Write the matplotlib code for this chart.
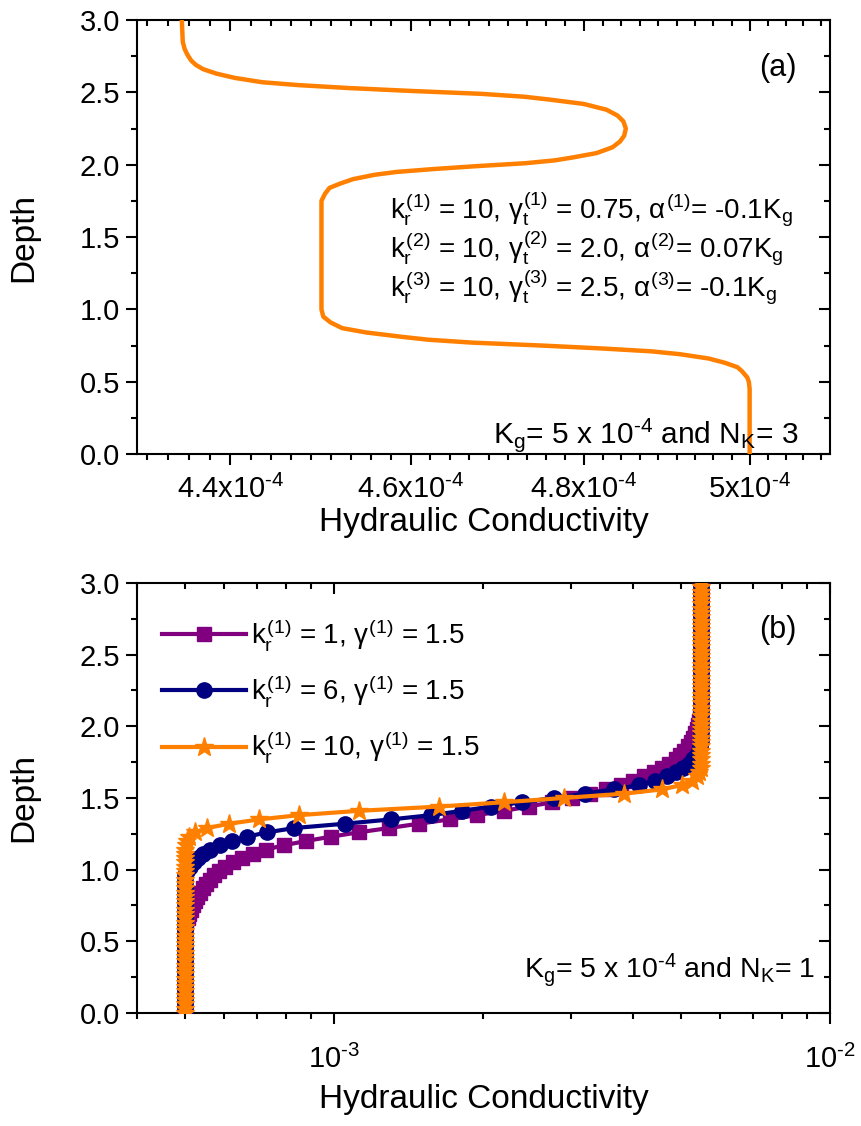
"""
plot.py — 수리전도도 깊이 프로파일 (a) N_K=3 단일 곡선, (b) N_K=1 k_r 비교.
"""
import numpy as np
import matplotlib
matplotlib.use('Agg')
import matplotlib.pyplot as plt
from matplotlib.lines import Line2D
from matplotlib.ticker import NullFormatter

plt.rcParams['font.family'] = ['Liberation Sans', 'DejaVu Sans']
plt.rcParams['mathtext.fontset'] = 'custom'
plt.rcParams['mathtext.rm'] = 'Liberation Sans'
plt.rcParams['mathtext.it'] = 'Liberation Sans'
plt.rcParams['mathtext.bf'] = 'Liberation Sans:bold'

# ─── 데이터 ────────────────────────────────────────────
# (a) 깊이 / K (단위 1e-4)
depth_a = [0.00, 0.20, 0.40, 0.45, 0.50, 0.53, 0.55, 0.57, 0.60, 0.63,
           0.66, 0.69, 0.71, 0.73, 0.75, 0.77, 0.79, 0.81, 0.84, 0.87,
           0.91, 0.95, 1.00, 1.20, 1.40, 1.60, 1.75, 1.80, 1.84, 1.87,
           1.90, 1.93, 1.95, 1.97, 1.99, 2.01, 2.03, 2.05, 2.08, 2.12,
           2.16, 2.20, 2.25, 2.30, 2.34, 2.38, 2.42, 2.45, 2.47, 2.49,
           2.51, 2.53, 2.55, 2.57, 2.60, 2.63, 2.66, 2.69, 2.72, 2.76,
           2.80, 2.85, 3.00]
K_a = [5.000, 5.000, 5.000, 5.000, 4.999, 4.997, 4.994, 4.991, 4.985, 4.970,
       4.950, 4.915, 4.880, 4.820, 4.750, 4.670, 4.620, 4.590, 4.550, 4.523,
       4.510, 4.502, 4.500, 4.500, 4.500, 4.500, 4.500, 4.504, 4.509, 4.521,
       4.535, 4.559, 4.584, 4.626, 4.675, 4.731, 4.766, 4.787, 4.815, 4.834,
       4.843, 4.848, 4.850, 4.847, 4.840, 4.827, 4.800, 4.760, 4.730, 4.680,
       4.600, 4.530, 4.475, 4.435, 4.405, 4.385, 4.371, 4.363, 4.358, 4.354,
       4.351, 4.349, 4.348]

# (b) 공통 깊이 격자 / K (단위 1e-4)
depth_b = [0.00, 0.03, 0.06, 0.09, 0.12, 0.15, 0.18, 0.21, 0.24, 0.27,
           0.30, 0.33, 0.36, 0.39, 0.42, 0.45, 0.48, 0.51, 0.54, 0.57,
           0.60, 0.63, 0.66, 0.69, 0.72, 0.75, 0.78, 0.81, 0.84, 0.87,
           0.90, 0.93, 0.96, 0.99, 1.02, 1.05, 1.08, 1.11, 1.14, 1.17,
           1.20, 1.23, 1.26, 1.29, 1.32, 1.35, 1.38, 1.41, 1.44, 1.47,
           1.50, 1.53, 1.56, 1.59, 1.62, 1.65, 1.68, 1.71, 1.74, 1.77,
           1.80, 1.83, 1.86, 1.89, 1.92, 1.95, 1.98, 2.01, 2.04, 2.07,
           2.10, 2.13, 2.16, 2.19, 2.22, 2.25, 2.28, 2.31, 2.34, 2.37,
           2.40, 2.43, 2.46, 2.49, 2.52, 2.55, 2.58, 2.61, 2.64, 2.67,
           2.70, 2.73, 2.76, 2.79, 2.82, 2.85, 2.88, 2.91, 2.94, 2.97,
           3.00]
K_kr1 = [5.00, 5.00, 5.00, 5.00, 5.00, 5.00, 5.00, 5.00, 5.00, 5.00,
         5.00, 5.00, 5.00, 5.00, 5.00, 5.00, 5.00, 5.00, 5.00, 5.00,
         5.01, 5.03, 5.07, 5.10, 5.15, 5.20, 5.25, 5.29, 5.36, 5.43,
         5.52, 5.63, 5.73, 5.87, 6.03, 6.26, 6.53, 6.87, 7.29, 7.93,
         8.79, 9.87, 11.2, 12.9, 14.8, 17.1, 19.4, 22.0, 24.7, 27.5,
         30.2, 32.8, 35.4, 37.8, 40.1, 42.2, 44.2, 45.9, 47.4, 48.8,
         49.9, 50.8, 51.7, 52.4, 53.0, 53.5, 53.9, 54.2, 54.5, 54.7,
         54.9, 55.0, 55.0, 55.0, 55.0, 55.0, 55.0, 55.0, 55.0, 55.0,
         55.0, 55.0, 55.0, 55.0, 55.0, 55.0, 55.0, 55.0, 55.0, 55.0,
         55.0, 55.0, 55.0, 55.0, 55.0, 55.0, 55.0, 55.0, 55.0, 55.0,
         55.0]
K_kr6 = [5.00, 5.00, 5.00, 5.00, 5.00, 5.00, 5.00, 5.00, 5.00, 5.00,
         5.00, 5.00, 5.00, 5.00, 5.00, 5.00, 5.00, 5.00, 5.00, 5.00,
         5.00, 5.00, 5.00, 5.00, 5.00, 5.00, 5.00, 5.00, 5.00, 5.00,
         5.00, 5.00, 5.01, 5.05, 5.13, 5.22, 5.32, 5.45, 5.63, 5.89,
         6.23, 6.68, 7.33, 8.31, 10.5, 13.0, 15.7, 18.1, 20.7, 23.9,
         27.8, 32.1, 36.6, 41.2, 44.4, 47.0, 49.0, 50.6, 52.0, 53.0,
         53.8, 54.3, 54.7, 54.9, 55.0, 55.0, 55.0, 55.0, 55.0, 55.0,
         55.0, 55.0, 55.0, 55.0, 55.0, 55.0, 55.0, 55.0, 55.0, 55.0,
         55.0, 55.0, 55.0, 55.0, 55.0, 55.0, 55.0, 55.0, 55.0, 55.0,
         55.0, 55.0, 55.0, 55.0, 55.0, 55.0, 55.0, 55.0, 55.0, 55.0,
         55.0]
K_kr10 = [5.00, 5.00, 5.00, 5.00, 5.00, 5.00, 5.00, 5.00, 5.00, 5.00,
          5.00, 5.00, 5.00, 5.00, 5.00, 5.00, 5.00, 5.00, 5.00, 5.00,
          5.00, 5.00, 5.00, 5.00, 5.00, 5.00, 5.00, 5.00, 5.00, 5.00,
          5.00, 5.00, 5.00, 5.00, 5.00, 5.00, 5.00, 5.00, 5.01, 5.02,
          5.05, 5.10, 5.25, 5.55, 6.14, 7.06, 8.50, 11.2, 16.3, 22.0,
          29.1, 38.5, 45.9, 50.2, 52.6, 53.8, 54.5, 54.8, 55.0, 55.0,
          55.0, 55.0, 55.0, 55.0, 55.0, 55.0, 55.0, 55.0, 55.0, 55.0,
          55.0, 55.0, 55.0, 55.0, 55.0, 55.0, 55.0, 55.0, 55.0, 55.0,
          55.0, 55.0, 55.0, 55.0, 55.0, 55.0, 55.0, 55.0, 55.0, 55.0,
          55.0, 55.0, 55.0, 55.0, 55.0, 55.0, 55.0, 55.0, 55.0, 55.0,
          55.0]

labels_b = [r'$k_r^{(1)}$ = 1, $\gamma^{(1)}$ = 1.5',
            r'$k_r^{(1)}$ = 6, $\gamma^{(1)}$ = 1.5',
            r'$k_r^{(1)}$ = 10, $\gamma^{(1)}$ = 1.5']

xticks_a = [4.4e-4, 4.6e-4, 4.8e-4, 5.0e-4]
xticklabels_a = [r'4.4x10$^{\text{-4}}$', r'4.6x10$^{\text{-4}}$',
                 r'4.8x10$^{\text{-4}}$', r'5x10$^{\text{-4}}$']
xticks_b = [1e-3, 1e-2]
xticklabels_b = [r'10$^{\text{-3}}$', r'10$^{\text{-2}}$']

ORANGE = '#FF8000'
PURPLE = '#800080'
NAVY = '#000080'
LW_AX = 1.5


# ─── 축 스타일 (Origin 풍: 좌/하 바깥, 상/우 안쪽) ─────────────

def style_axes(ax, xlim, xmaj, xlab, xmin, xpad):
    ax.set_xscale('log')
    ax.set_xlim(xlim)
    ax.set_ylim(0, 3)
    ax.set_xticks(xmaj, xlab)
    ax.set_xticks(xmin, minor=True)
    ax.xaxis.set_minor_formatter(NullFormatter())
    ax.set_yticks(np.arange(0, 3.01, 0.5))
    ax.set_yticklabels([f'{v:.1f}' for v in np.arange(0, 3.01, 0.5)])
    ax.set_yticks(np.arange(0.25, 3.0, 0.5), minor=True)
    ax.tick_params(which='both', direction='out', top=False, right=False,
                   width=LW_AX, labelsize=21)
    ax.tick_params(which='major', length=8, pad=4)
    ax.tick_params(which='minor', length=4.5)
    ax.tick_params(axis='x', which='major', pad=xpad)
    for s in ax.spines.values():
        s.set_linewidth(LW_AX)

    # 상/우 안쪽 눈금용 겹친 축
    m = ax.figure.add_axes(ax.get_position(), frameon=False)
    m.set_xscale('log')
    m.set_xlim(xlim)
    m.set_ylim(0, 3)
    m.set_xticks(xmaj)
    m.set_xticks(xmin, minor=True)
    m.set_yticks(np.arange(0, 3.01, 0.5))
    m.set_yticks(np.arange(0.25, 3.0, 0.5), minor=True)
    m.xaxis.set_ticks_position('top')
    m.yaxis.set_ticks_position('right')
    m.tick_params(which='both', direction='in', width=LW_AX,
                  labeltop=False, labelright=False, labelbottom=False, labelleft=False)
    m.tick_params(which='major', length=8)
    m.tick_params(which='minor', length=4.5)
    m.xaxis.set_minor_formatter(NullFormatter())

    ax.set_ylabel('Depth', fontsize=24)
    ax.set_xlabel('Hydraulic Conductivity', fontsize=24)
    ax.yaxis.set_label_coords(-0.14, 0.5)


fig = plt.figure(figsize=(8.62, 11.26), dpi=100)

# ─── (a) ──────────────────────────────────────────────
ax1 = fig.add_axes([0.1586, 0.5968, 0.8044, 0.3854])
ax1.plot(np.array(K_a) * 1e-4, depth_a, '-', color=ORANGE, lw=3.2, zorder=3)
minor_a = [4.4e-4 + k * 0.2e-4 / 9 for k in range(-4, 32) if k % 9 != 0]
style_axes(ax1, (4.3e-4, 5.1e-4), xticks_a, xticklabels_a, minor_a, 7)
ax1.xaxis.set_label_coords(0.5, -0.122)

ax1.text(0.924, 0.889, '(a)', transform=ax1.transAxes, fontsize=22,
         ha='center', va='center')
ann_a = [r'$k_r^{(1)}$ = 10, $\gamma_t^{(1)}$ = 0.75, $\alpha^{(1)}$= -0.1K$_g$',
         r'$k_r^{(2)}$ = 10, $\gamma_t^{(2)}$ = 2.0, $\alpha^{(2)}$= 0.07K$_g$',
         r'$k_r^{(3)}$ = 10, $\gamma_t^{(3)}$ = 2.5, $\alpha^{(3)}$= -0.1K$_g$']
for yy, s in zip([0.542, 0.452, 0.362], ann_a):
    ax1.text(0.365, yy, s, transform=ax1.transAxes, fontsize=20,
             ha='left', va='baseline')
ax1.text(0.955, 0.025, r'K$_g$= 5 x 10$^{\text{-4}}$ and N$_K$= 3', transform=ax1.transAxes,
         fontsize=21.5, ha='right', va='baseline')

# ─── (b) ──────────────────────────────────────────────
ax2 = fig.add_axes([0.1586, 0.1004, 0.8044, 0.3819])
series_b = [(K_kr1, PURPLE, 's', 10), (K_kr6, NAVY, 'o', 11), (K_kr10, ORANGE, '*', 14)]
handles = []
for (K, c, mk, ms), lab in zip(series_b, labels_b):
    ax2.plot(np.array(K) * 1e-4, depth_b, '-', color=c, lw=3.0, marker=mk,
             markersize=ms, markeredgecolor=c, markerfacecolor=c, zorder=3)
    handles.append(Line2D([], [], color=c, lw=3.0, marker=mk, markersize=ms,
                          markeredgecolor=c, markerfacecolor=c, label=lab))
minor_b = [4e-4, 5e-4, 6e-4, 7e-4, 8e-4, 9e-4,
           2e-3, 3e-3, 4e-3, 5e-3, 6e-3, 7e-3, 8e-3, 9e-3]
style_axes(ax2, (4e-4, 1e-2), xticks_b, xticklabels_b, minor_b, 15)
ax2.xaxis.set_label_coords(0.5, -0.165)

ax2.legend(handles=handles, loc='upper left', bbox_to_anchor=(0.037, 0.92),
           frameon=False, fontsize=20, handlelength=3.0, handletextpad=0.2,
           labelspacing=0.72, borderpad=0, borderaxespad=0, numpoints=1)
ax2.text(0.924, 0.891, '(b)', transform=ax2.transAxes, fontsize=22,
         ha='center', va='center')
ax2.text(0.978, 0.081, r'K$_g$= 5 x 10$^{\text{-4}}$ and N$_K$= 1', transform=ax2.transAxes,
         fontsize=20.5, ha='right', va='baseline')

fig.savefig('out.png', dpi=100)
